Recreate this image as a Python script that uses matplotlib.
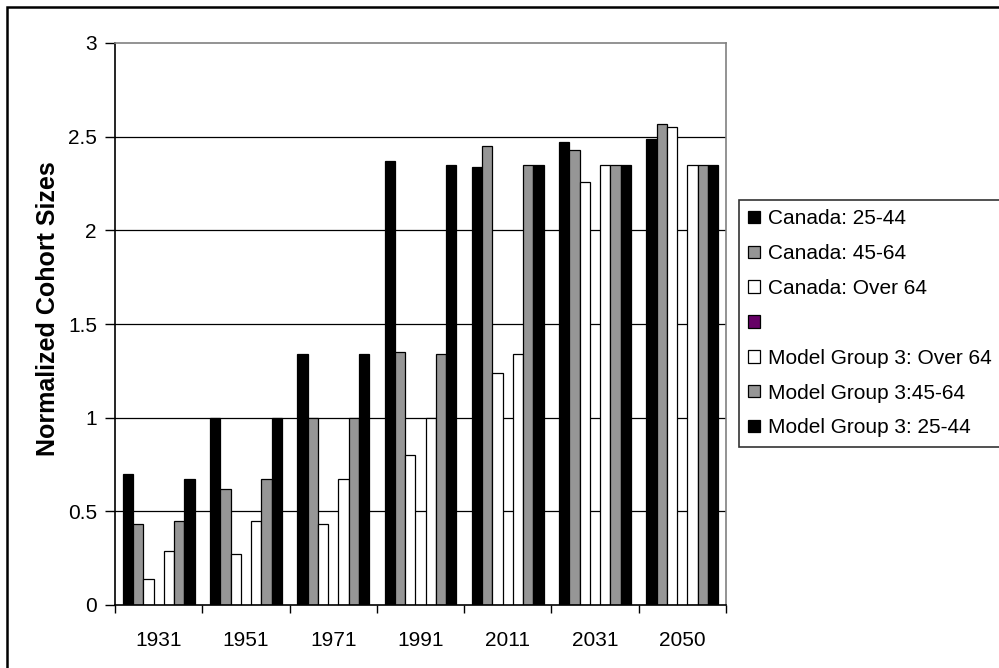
import matplotlib
matplotlib.use("Agg")
import matplotlib.pyplot as plt
from matplotlib.patches import Rectangle, Patch
import numpy as np

plt.rcParams['font.family'] = ['Liberation Sans', 'DejaVu Sans']

years = ["1931", "1951", "1971", "1991", "2011", "2031", "2050"]
canada_25_44 = [0.70, 1.00, 1.34, 2.37, 2.34, 2.47, 2.49]
canada_45_64 = [0.43, 0.62, 1.00, 1.35, 2.45, 2.43, 2.57]
canada_over_64 = [0.14, 0.27, 0.43, 0.80, 1.24, 2.26, 2.55]
blank_series = [np.nan] * 7
model_over_64 = [0.29, 0.45, 0.67, 1.00, 1.34, 2.35, 2.35]
model_45_64 = [0.45, 0.67, 1.00, 1.34, 2.35, 2.35, 2.35]
model_25_44 = [0.67, 1.00, 1.34, 2.35, 2.35, 2.35, 2.35]

series_names = ["Canada: 25-44", "Canada: 45-64", "Canada: Over 64", "",
                "Model Group 3: Over 64", "Model Group 3:45-64",
                "Model Group 3: 25-44"]
series_values = [canada_25_44, canada_45_64, canada_over_64, blank_series,
                 model_over_64, model_45_64, model_25_44]
BLACK, GRAY, WHITE, PURPLE = "#000000", "#969696", "#ffffff", "#660066"
series_colors = [BLACK, GRAY, WHITE, PURPLE, WHITE, GRAY, BLACK]

FS = 15
W, H = 999, 668
fig = plt.figure(figsize=(W / 100, H / 100), dpi=100)
ax = fig.add_axes([115 / W, 1 - 605 / H, 611 / W, 562 / H])

n_series = len(series_values)
bar_w = 1.0 / (n_series + 1.5)
centers = np.arange(len(years)) + 0.5
for j, (vals, col) in enumerate(zip(series_values, series_colors)):
    xs = centers + (j - (n_series - 1) / 2) * bar_w
    ax.bar(xs, vals, width=bar_w, color=col, edgecolor="black",
           linewidth=0.9, zorder=3)

ax.set_xlim(0, len(years))
ax.set_ylim(0, 3)
ax.set_yticks(np.arange(0, 3.01, 0.5))
ax.set_yticklabels(["0", "0.5", "1", "1.5", "2", "2.5", "3"])
ax.set_xticks(np.arange(0, len(years) + 1))
ax.set_xticklabels([])
ax.set_xticks(centers, minor=True)
ax.set_xticklabels(years, minor=True)
ax.tick_params(axis="x", which="minor", length=0, pad=19, labelsize=FS)
ax.tick_params(axis="x", which="major", direction="out", length=6, width=1)
ax.tick_params(axis="y", direction="out", length=7, width=1, pad=6,
               labelsize=FS)

for yv in np.arange(0.5, 2.51, 0.5):
    ax.axhline(yv, color="black", linewidth=0.9, zorder=1)

ax.spines["left"].set_color("black")
ax.spines["bottom"].set_color("black")
ax.spines["top"].set_color("#808080")
ax.spines["right"].set_color("#808080")
for s in ax.spines.values():
    s.set_linewidth(1.2)
    s.set_zorder(4)

ax.set_ylabel("Normalized Cohort Sizes", fontsize=18, fontweight="bold")
ax.yaxis.set_label_coords(-55 / 611, 0.528)

handles = [Patch(facecolor=c, edgecolor="black", linewidth=0.9)
           for c in series_colors]
leg = fig.legend(handles, series_names, loc="upper left",
                 bbox_to_anchor=(739 / W, 1 - 200 / H),
                 bbox_transform=fig.transFigure, fontsize=FS,
                 frameon=True, fancybox=False, edgecolor="black",
                 handlelength=0.55, handleheight=0.55, handletextpad=0.4,
                 labelspacing=0.76, borderpad=0.45, borderaxespad=0)
leg.get_frame().set_linewidth(1.2)

# outer border around the figure
fig.patches.append(Rectangle((7 / W, -0.05), 1.1, 1 - 7 / H + 0.05,
                             transform=fig.transFigure, fill=False,
                             edgecolor="black", linewidth=1.8))

fig.savefig("out.png", dpi=100)
